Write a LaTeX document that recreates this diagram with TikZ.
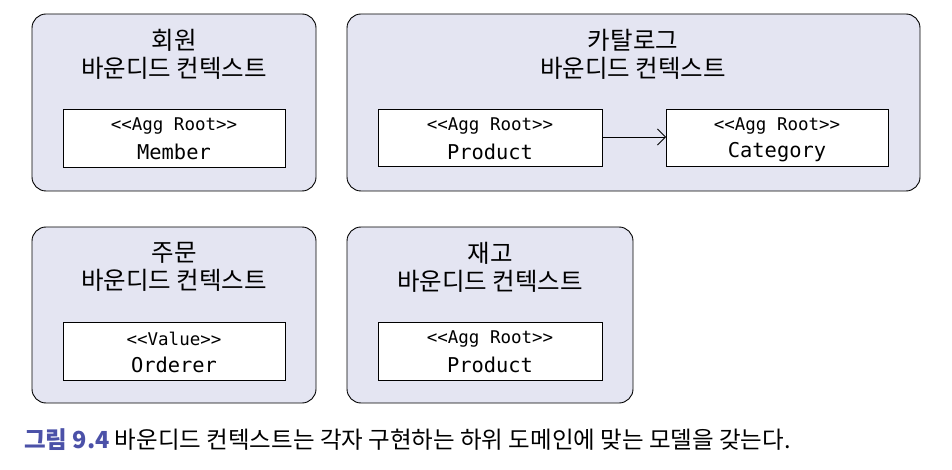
\documentclass[tikz,border=0pt]{standalone}
\usepackage{fontspec}
\setmainfont{Noto Sans CJK KR}
\newfontfamily\kr{Noto Sans CJK KR}
\newfontfamily\mono{DejaVu Sans Mono}
\usetikzlibrary{arrows.meta}
\definecolor{ctxfill}{HTML}{E4E5F2}
\definecolor{capblue}{HTML}{4B51A8}
\tikzset{
  ctx/.style={draw=black, line width=0.9pt, fill=ctxfill, rounded corners=14pt},
  agg/.style={draw=black, line width=0.9pt, fill=white},
  ctxtitle/.style={font=\kr\fontsize{24.5}{28}\selectfont, align=center, anchor=center, inner sep=0pt},
  stereo/.style={font=\mono\fontsize{17.5}{20}\selectfont, inner sep=0pt},
  aggname/.style={font=\mono\fontsize{20.4}{24}\selectfont, inner sep=0pt},
  rel/.style={-{Straight Barb[length=8pt,width=16pt]}, line width=0.8pt}
}
\begin{document}
\begin{tikzpicture}[x=1pt,y=-1pt]
\useasboundingbox (0,0) rectangle (952,470);
% contexts
\draw[ctx] (32,14) rectangle (316,191);
\draw[ctx] (347,14) rectangle (920,191);
\draw[ctx] (32,227) rectangle (316,403);
\draw[ctx] (347,227) rectangle (633,403);
\node[ctxtitle] (t1) at (174,54) {회원\\바운디드 컨텍스트};
\node[ctxtitle] (t2) at (633,54) {카탈로그\\바운디드 컨텍스트};
\node[ctxtitle] (t3) at (174,267) {주문\\바운디드 컨텍스트};
\node[ctxtitle] (t4) at (490,267) {재고\\바운디드 컨텍스트};
% aggregates
\draw[agg] (63,109) rectangle (285,167);
\node[stereo] (memberS) at (174,126) {<<Agg Root>>};
\node[aggname] (member) at (174,152) {Member};
\draw[agg] (378,109) rectangle (602,166);
\node[stereo] (productS) at (490,126) {<<Agg Root>>};
\node[aggname] (product) at (490,152) {Product};
\draw[agg] (666,109) rectangle (888,166);
\node[stereo] (categoryS) at (777,126) {<<Agg Root>>};
\node[aggname] (category) at (777,152) {Category};
\draw[agg] (63,322) rectangle (285,380);
\node[stereo] (ordererS) at (174,339) {<<Value>>};
\node[aggname] (orderer) at (174,365) {Orderer};
\draw[agg] (378,322) rectangle (602,380);
\node[stereo] (product2S) at (490,339) {<<Agg Root>>};
\node[aggname] (product2) at (490,365) {Product};
\coordinate (pr) at (602,137);
\coordinate (cl) at (666,137);
\draw[rel] (pr) -- (cl);
% caption
\node[anchor=west, inner sep=0pt, font=\kr\fontsize{23.5}{26}\selectfont] (cap) at (24,440)
  {{\color{capblue}\bfseries 그림 9.4} 바운디드 컨텍스트는 각자 구현하는 하위 도메인에 맞는 모델을 갖는다.};
\end{tikzpicture}
\end{document}
